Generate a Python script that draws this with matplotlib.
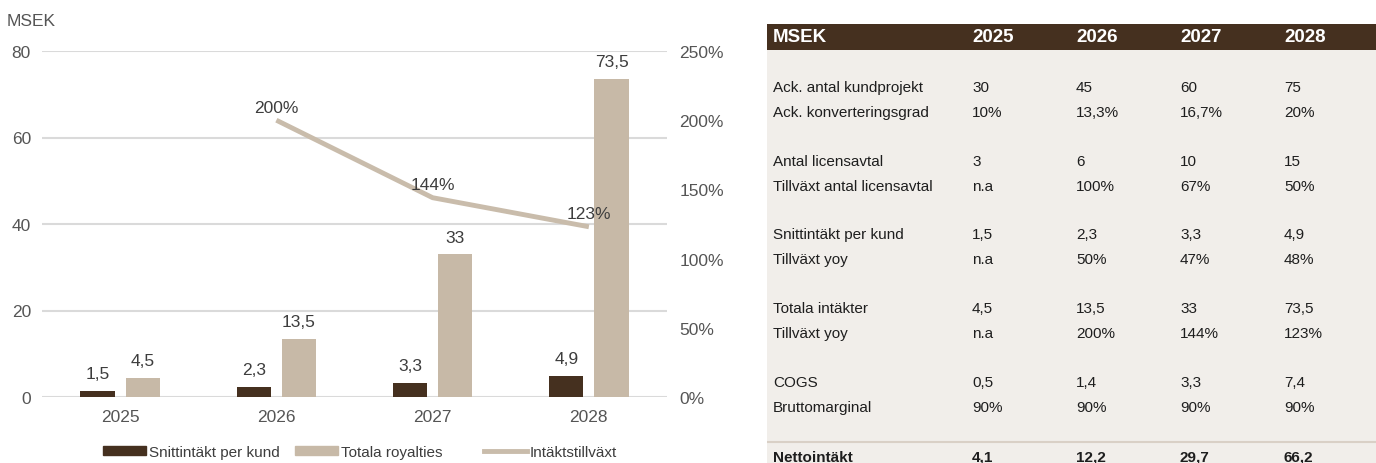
import matplotlib.pyplot as plt
from matplotlib.patches import Rectangle, Patch
from matplotlib.lines import Line2D
import numpy as np

plt.rcParams['font.family'] = ['Liberation Sans', 'DejaVu Sans']

# data
ar = ['2025', '2026', '2027', '2028']
snitt_per_kund = [1.5, 2.3, 3.3, 4.9]
totala_royalties = [4.5, 13.5, 33, 73.5]
intakt_tillvaxt = [np.nan, 200, 144, 123]

rad_etiketter = ['Ack. antal kundprojekt', 'Ack. konverteringsgrad',
                 'Antal licensavtal', 'Tillväxt antal licensavtal',
                 'Snittintäkt per kund', 'Tillväxt yoy',
                 'Totala intäkter', 'Tillväxt yoy',
                 'COGS', 'Bruttomarginal']
rad_varden = [
    ['30', '45', '60', '75'],
    ['10%', '13,3%', '16,7%', '20%'],
    ['3', '6', '10', '15'],
    ['n.a', '100%', '67%', '50%'],
    ['1,5', '2,3', '3,3', '4,9'],
    ['n.a', '50%', '47%', '48%'],
    ['4,5', '13,5', '33', '73,5'],
    ['n.a', '200%', '144%', '123%'],
    ['0,5', '1,4', '3,3', '7,4'],
    ['90%', '90%', '90%', '90%'],
]
netto_etikett = 'Nettointäkt'
netto_varden = ['4,1', '12,2', '29,7', '66,2']

mork = '#45301f'
ljus = '#c7b9a7'
linje = '#c9bcab'
grid_c = '#dadada'
txt_c = '#555555'
val_c = '#3d3d3d'

W, H = 1376, 464
fig = plt.figure(figsize=(W/100, H/100), dpi=100)

def fmt(v):
    return ('%g' % v).replace('.', ',')

fs = 12.5

# ---- chart
ax = fig.add_axes([42/W, 1-398/H, 625/W, 346/H])
x = np.arange(len(ar))
bw = 0.22
b1 = ax.bar(x - 0.145, snitt_per_kund, bw, color=mork, zorder=2)
b2 = ax.bar(x + 0.145, totala_royalties, bw, color=ljus, zorder=2)
ax.set_xlim(-0.5, 3.5)
ax.set_ylim(0, 80)
ax.set_yticks([0, 20, 40, 60, 80])
ax.set_xticks(x)
ax.set_xticklabels(ar)
ax.grid(axis='y', color=grid_c, lw=1.5, zorder=0)
ax.set_axisbelow(True)
for s in ax.spines.values():
    s.set_visible(False)
ax.tick_params(axis='y', length=0, labelsize=fs, colors=txt_c, pad=8)
ax.tick_params(axis='x', length=0, labelsize=fs, colors=txt_c, pad=9)

for bars, vals in [(b1, snitt_per_kund), (b2, totala_royalties)]:
    for r, v in zip(bars, vals):
        ax.annotate(fmt(v), (r.get_x() + r.get_width()/2, v),
                    xytext=(0, 7), textcoords='offset points',
                    ha='center', va='bottom', fontsize=fs, color=val_c)

ax2 = ax.twinx()
ax2.set_ylim(0, 250)
ax2.set_yticks(np.arange(0, 251, 50))
ax2.set_yticklabels(['%d%%' % t for t in np.arange(0, 251, 50)])
for s in ax2.spines.values():
    s.set_visible(False)
ax2.tick_params(axis='y', length=0, labelsize=fs, colors=txt_c, pad=9)
ax2.plot(x, intakt_tillvaxt, color=linje, lw=3.5, solid_capstyle='butt')
for xi, v in zip(x, intakt_tillvaxt):
    if np.isnan(v):
        continue
    ax2.annotate('%d%%' % v, (xi, v), xytext=(0, 4), textcoords='offset points',
                 ha='center', va='bottom', fontsize=fs, color=val_c)

fig.text(7/W, 1-22/H, 'MSEK', ha='left', va='center', fontsize=fs, color=txt_c)

# legend, one entry at a time so the gaps match
leg_items = [(Patch(color=mork), 'Snittintäkt per kund', 103),
             (Patch(color=ljus), 'Totala royalties', 295),
             (Line2D([], [], color=linje, lw=3.5), 'Intäktstillväxt', 484)]
for h, lab, lx in leg_items:
    fig.legend([h], [lab], loc='center left', bbox_to_anchor=(lx/W, 1-453/H),
               frameon=False, fontsize=11, handlelength=2.8, handleheight=0.6,
               handletextpad=0.2, borderpad=0, borderaxespad=0, labelcolor=val_c)

# ---- table
tx0 = 767
at = fig.add_axes([tx0/W, 0, (W-tx0)/W, 1])
at.set_xlim(tx0, W)
at.set_ylim(H, 0)
at.axis('off')
at.add_patch(Rectangle((tx0, 50.5), W-tx0, H-50.5, color='#f1eeea', lw=0))
at.add_patch(Rectangle((tx0, 25), W-tx0, 25.5, color=mork, lw=0))
at.plot([tx0, W], [443, 443], color='#d9d0c6', lw=1.5)

lab_x = 773
col_x = [972, 1076, 1180, 1284]
at.text(lab_x, 38, 'MSEK', ha='left', va='center', fontsize=13.5,
        fontweight='bold', color='white')
for cx, a in zip(col_x, ar):
    at.text(cx, 38, a, ha='left', va='center', fontsize=13.5,
            fontweight='bold', color='white')

tfs = 11
rad_y = []
for g in range(5):
    rad_y += [88 + 73.7*g, 113 + 73.7*g]
for y, lab, vals in zip(rad_y, rad_etiketter, rad_varden):
    at.text(lab_x, y, lab, ha='left', va='center', fontsize=tfs, color='#1e1e1e')
    for cx, v in zip(col_x, vals):
        at.text(cx, y, v, ha='left', va='center', fontsize=tfs, color='#1e1e1e')

at.text(lab_x, 458, netto_etikett, ha='left', va='center', fontsize=tfs,
        fontweight='bold', color='#1e1e1e')
for cx, v in zip(col_x, netto_varden):
    at.text(cx, 458, v, ha='left', va='center', fontsize=tfs,
            fontweight='bold', color='#1e1e1e')

fig.savefig('out.png', dpi=100)
